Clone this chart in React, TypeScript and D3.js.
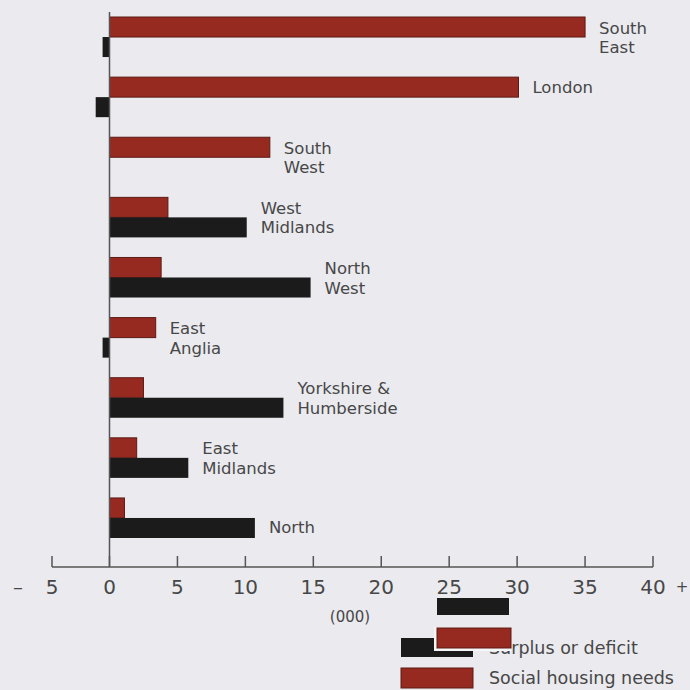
import React from "react";
import * as d3 from "d3";

// Regions, top to bottom
const regions = [
  "South East",
  "London",
  "South West",
  "West Midlands",
  "North West",
  "East Anglia",
  "Yorkshire & Humberside",
  "East Midlands",
  "North",
];

// Region labels, broken into display lines
const regionLines = [
  ["South", "East"],
  ["London"],
  ["South", "West"],
  ["West", "Midlands"],
  ["North", "West"],
  ["East", "Anglia"],
  ["Yorkshire &", "Humberside"],
  ["East", "Midlands"],
  ["North"],
];

// Values in thousands of dwellings
const socialHousingNeeds = [35.0, 30.1, 11.8, 4.3, 3.8, 3.4, 2.5, 2.0, 1.1];
const surplusOrDeficit = [-0.6, -1.2, 0, 10.1, 14.8, -0.6, 12.8, 5.8, 10.7];

const tickValues = [-5, 0, 5, 10, 15, 20, 25, 30, 35, 40];
const unitLabel = "(000)";
const legendLabels = ["Surplus or deficit", "Social housing needs"];

const W = 690;
const H = 690;
const BG = "#eaeaef";
const RED = "#962a21";
const RED_EDGE = "#5e1a14";
const BLACK = "#1b1b1b";
const TEXT = "#474747";
const FONT = "'DejaVu Sans', sans-serif";

export default function App() {
  // Axis is drawn with a shortened negative segment
  const x = d3.scaleLinear().domain([-5, 0, 40]).range([52, 109.5, 653]);
  const y = d3
    .scaleBand<string>()
    .domain(regions)
    .range([17, 538])
    .paddingInner(0.334)
    .paddingOuter(0);
  const bw = y.bandwidth();
  const half = bw / 2;
  const axisY = 567;

  return (
    <svg
      width={W}
      height={H}
      style={{ position: "absolute", left: 0, top: 0, background: BG }}
      fontFamily={FONT}
    >
      <rect x={0} y={0} width={W} height={H} fill={BG} />

      {regions.map((r, i) => {
        const y0 = y(r)!;
        const need = socialHousingNeeds[i];
        const sur = surplusOrDeficit[i];
        const lines = regionLines[i];
        const labelX = x(Math.max(need, sur, 0)) + 14;
        let centerY = y0 + half;
        if (lines.length === 1) {
          centerY = need >= sur ? y0 + half / 2 : y0 + half + half / 2;
        }
        return (
          <g key={r}>
            <rect
              x={x(0)}
              y={y0}
              width={x(need) - x(0)}
              height={half}
              fill={RED}
              stroke={RED_EDGE}
              strokeWidth={1}
            />
            {sur !== 0 && (
              <rect
                x={Math.min(x(0), x(sur))}
                y={y0 + half}
                width={Math.abs(x(sur) - x(0))}
                height={half}
                fill={BLACK}
              />
            )}
            {lines.length === 1 ? (
              <text
                x={labelX}
                y={centerY}
                dominantBaseline="central"
                fontSize={16.5}
                fill={TEXT}
              >
                {lines[0]}
              </text>
            ) : (
              lines.map((ln, k) => (
                <text
                  key={k}
                  x={labelX}
                  y={centerY - 9 + k * 19.5}
                  dominantBaseline="central"
                  fontSize={16.5}
                  fill={TEXT}
                >
                  {ln}
                </text>
              ))
            )}
          </g>
        );
      })}

      {/* zero line */}
      <line x1={x(0)} x2={x(0)} y1={12} y2={axisY} stroke="#555" strokeWidth={1.5} />

      {/* horizontal axis */}
      <line x1={x(-5)} x2={x(40)} y1={axisY} y2={axisY} stroke="#555" strokeWidth={1.5} />
      {tickValues.map((t) => (
        <g key={t}>
          <line x1={x(t)} x2={x(t)} y1={axisY - 11} y2={axisY} stroke="#555" strokeWidth={1.5} />
          <text
            x={x(t)}
            y={587}
            textAnchor="middle"
            dominantBaseline="central"
            fontSize={20}
            fill={TEXT}
          >
            {Math.abs(t)}
          </text>
        </g>
      ))}
      <text x={18} y={587} textAnchor="middle" dominantBaseline="central" fontSize={20} fill={TEXT}>
        –
      </text>
      <text x={682} y={587} textAnchor="middle" dominantBaseline="central" fontSize={15} fill={TEXT}>
        +
      </text>
      <text x={350} y={617} textAnchor="middle" dominantBaseline="central" fontSize={15} fill={TEXT}>
        {unitLabel}
      </text>

      {/* legend */}
      <rect x={401} y={638} width={72} height={19} fill={BLACK} />
      <text x={489} y={648} dominantBaseline="central" fontSize={17.5} fill={TEXT}>
        {legendLabels[0]}
      </text>
      <rect x={401} y={668} width={72} height={20} fill={RED} stroke={RED_EDGE} strokeWidth={1} />
      <text x={489} y={678} dominantBaseline="central" fontSize={17.5} fill={TEXT}>
        {legendLabels[1]}
      </text>

      {/* offset swatch copies */}
      <rect x={437} y={598} width={72} height={17} fill={BLACK} />
      <rect x={434} y={627} width={77} height={24} fill="#f6f6f8" />
      <rect x={437} y={628} width={74} height={20} fill={RED} stroke={RED_EDGE} strokeWidth={1} />
    </svg>
  );
}
